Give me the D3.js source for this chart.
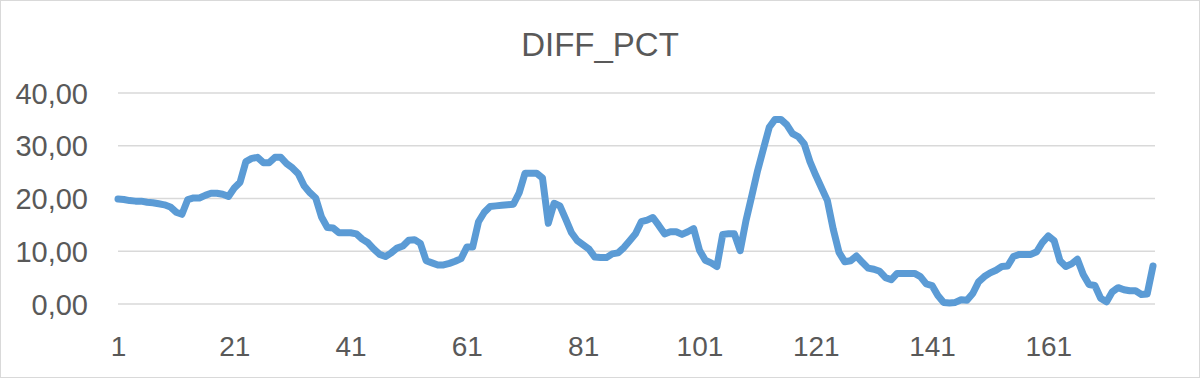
<!DOCTYPE html>
<html>
<head>
<meta charset="utf-8">
<script src="https://cdn.jsdelivr.net/npm/d3@7"></script>
<style>
  body { margin: 0; background: #fff; }
  svg { display: block; font-family: "Liberation Sans", Arial, sans-serif; }
</style>
</head>
<body>
<div id="chart"></div>
<script>
const title = "DIFF_PCT";
const categories = d3.range(1, 180);
const diffPct = [
  19.9, 19.8, 19.6, 19.5, 19.5, 19.3, 19.2, 19.0, 18.8, 18.4,
  17.4, 17.0, 19.8, 20.1, 20.1, 20.6, 21.0, 21.0, 20.8, 20.4,
  22.0, 23.1, 27.0, 27.6, 27.8, 26.8, 26.8, 27.8, 27.8, 26.6,
  25.8, 24.7, 22.4, 21.1, 20.1, 16.5, 14.5, 14.4, 13.5, 13.5,
  13.5, 13.3, 12.3, 11.6, 10.4, 9.4, 9.0, 9.7, 10.6, 11.0,
  12.1, 12.2, 11.5, 8.2, 7.8, 7.4, 7.4, 7.7, 8.1, 8.6,
  10.8, 10.8, 15.6, 17.4, 18.5, 18.6, 18.7, 18.8, 18.9, 21.1,
  24.8, 24.8, 24.8, 23.9, 15.3, 19.1, 18.6, 16.1, 13.5, 12.0,
  11.2, 10.4, 8.9, 8.8, 8.8, 9.5, 9.7, 10.7, 12.0, 13.3,
  15.6, 15.9, 16.4, 14.9, 13.3, 13.7, 13.7, 13.2, 13.7, 14.3,
  10.2, 8.3, 7.8, 7.1, 13.2, 13.3, 13.3, 10.1, 15.8, 20.5,
  25.3, 29.4, 33.5, 35.0, 35.0, 34.0, 32.3, 31.7, 30.4, 27.0,
  24.4, 22.0, 19.6, 14.2, 9.8, 8.0, 8.2, 9.1, 7.9, 6.8,
  6.6, 6.2, 5.0, 4.6, 5.8, 5.8, 5.8, 5.8, 5.2, 3.8,
  3.5, 1.6, 0.3, 0.2, 0.3, 0.8, 0.7, 2.0, 4.2, 5.2,
  5.9, 6.4, 7.1, 7.2, 9.0, 9.4, 9.4, 9.4, 9.9, 11.7,
  12.9, 12.0, 8.2, 7.1, 7.6, 8.5, 5.6, 3.7, 3.5, 1.1,
  0.4, 2.3, 3.1, 2.7, 2.5, 2.5, 1.8, 1.9, 7.2
];
const xTickLabels = ["1", "21", "41", "61", "81", "101", "121", "141", "161"];
const yTicks = [0, 10, 20, 30, 40];

const width = 1200, height = 378;
const plot = { left: 118, right: 1155, top: 93, bottom: 304 };

const svg = d3.select("#chart").append("svg")
  .attr("width", width)
  .attr("height", height);

svg.append("rect")
  .attr("x", 0.5).attr("y", 0.5)
  .attr("width", width - 1).attr("height", height - 1)
  .attr("fill", "#fff")
  .attr("stroke", "#d9d9d9");

const x = d3.scalePoint()
  .domain(categories)
  .range([plot.left, plot.right - 2]);

const y = d3.scaleLinear()
  .domain([0, 40])
  .range([plot.bottom, plot.top]);

const locale = d3.formatLocale({ decimal: ",", thousands: ".", grouping: [3], currency: ["", ""] });
const fmt = locale.format(".2f");

// gridlines
svg.append("g")
  .selectAll("line")
  .data(yTicks)
  .enter()
  .append("line")
  .attr("x1", plot.left)
  .attr("x2", plot.right)
  .attr("y1", d => y(d))
  .attr("y2", d => y(d))
  .attr("stroke", "#d9d9d9")
  .attr("stroke-width", 1.5);

// y axis labels
const yAxis = svg.append("g")
  .attr("transform", "translate(" + (plot.left - 30) + ",0)")
  .call(d3.axisLeft(y).tickValues(yTicks).tickFormat(fmt).tickSize(0).tickPadding(0));
yAxis.select(".domain").remove();
yAxis.selectAll("text")
  .attr("fill", "#595959")
  .style("font-size", "29px")
  .attr("dy", "0.35em");

// x axis labels
const xAxis = svg.append("g")
  .attr("transform", "translate(0," + plot.bottom + ")")
  .call(d3.axisBottom(x).tickValues(xTickLabels.map(Number)).tickSize(0).tickPadding(0));
xAxis.select(".domain").remove();
xAxis.selectAll("text")
  .attr("fill", "#595959")
  .style("font-size", "28px")
  .attr("y", 52)
  .attr("dy", 0);

svg.append("text")
  .attr("x", width / 2)
  .attr("y", 56)
  .attr("text-anchor", "middle")
  .attr("fill", "#595959")
  .style("font-size", "33px")
  .text(title);

const line = d3.line()
  .x((d, i) => x(categories[i]))
  .y(d => y(d));

svg.append("path")
  .datum(diffPct)
  .attr("d", line)
  .attr("fill", "none")
  .attr("stroke", "#5b9bd5")
  .attr("stroke-width", 7)
  .attr("stroke-linejoin", "round")
  .attr("stroke-linecap", "round");
</script>
</body>
</html>
